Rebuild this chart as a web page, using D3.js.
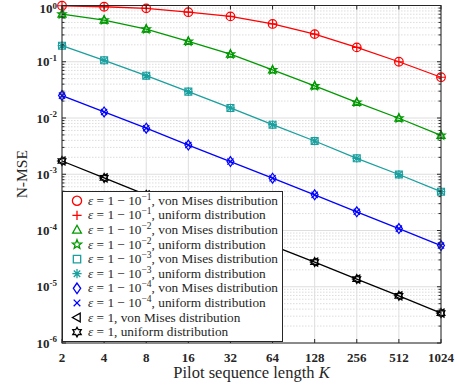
<!DOCTYPE html>
<html>
<head>
<meta charset="utf-8">
<script src="https://cdn.jsdelivr.net/npm/d3@7"></script>
<style>
  html, body { margin: 0; padding: 0; background: #fff; }
  svg { display: block; }
</style>
</head>
<body>
<svg id="chart" width="459" height="386"></svg>
<script>
// pilot sequence lengths
const pilotLengths = [2, 4, 8, 16, 32, 64, 128, 256, 512, 1024]

// N-MSE for each epsilon (von Mises and uniform curves coincide)
const nmseEps1e1 = [0.99, 0.95, 0.89, 0.76, 0.64, 0.47, 0.31, 0.18, 0.10, 0.053]
const nmseEps1e2 = [0.70, 0.55, 0.38, 0.23, 0.136, 0.0714, 0.0372, 0.019, 0.0099, 0.0049]
const nmseEps1e3 = [0.193, 0.106, 0.0565, 0.0294, 0.0151, 0.0076, 0.0039, 0.00192, 0.00099, 0.00049]
const nmseEps1e4 = [0.025, 0.0128, 0.0066, 0.0033, 0.00168, 0.00085, 0.00043, 0.000215, 0.000108, 0.000054]
const nmseEps1 = [0.00172, 0.00086, 0.00043, 0.000215, 0.000108, 0.000054, 0.0000275, 0.0000137, 0.0000069, 0.0000034]

const xTicks = [2, 4, 8, 16, 32, 64, 128, 256, 512, 1024]
const yExponents = [0, -1, -2, -3, -4, -5, -6]

const series = [
    { values: nmseEps1e1, color: '#ff0000', markers: ['circle', 'plus'], exp: '−1' },
    { values: nmseEps1e2, color: '#009900', markers: ['triUp', 'pentagram'], exp: '−2' },
    { values: nmseEps1e3, color: '#1a9f9f', markers: ['square', 'asterisk'], exp: '−3' },
    { values: nmseEps1e4, color: '#0000ff', markers: ['diamond', 'cross'], exp: '−4' },
    { values: nmseEps1, color: '#000000', markers: ['triLeft', 'hexagram'], exp: null }
]

const margin = { left: 62, right: 18, top: 5.5, bottom: 43 }
const W = 459, H = 386
const x0 = margin.left, x1 = W - margin.right
const y0 = H - margin.bottom, y1 = margin.top

const x = d3.scaleLog().base(2).domain([2, 1024]).range([x0, x1])
const y = d3.scaleLog().domain([1e-6, 1]).range([y0, y1])

const svg = d3.select('#chart')

function star(n, ro, ri) {
    let pts = []
    for (let i = 0; i < 2 * n; i++) {
        const a = -Math.PI / 2 + i * Math.PI / n
        const r = i % 2 ? ri : ro
        pts.push([r * Math.cos(a), r * Math.sin(a)])
    }
    return 'M' + pts.map(p => p.join(',')).join('L') + 'Z'
}

const shapes = {
    circle: r => `M${r},0A${r},${r} 0 1,1 ${-r},0A${r},${r} 0 1,1 ${r},0Z`,
    plus: r => `M${-r},0H${r}M0,${-r}V${r}`,
    triUp: r => `M0,${-r}L${r * 0.95},${r * 0.7}L${-r * 0.95},${r * 0.7}Z`,
    pentagram: r => star(5, r * 1.05, r * 0.45),
    square: r => `M${-r * 0.8},${-r * 0.8}H${r * 0.8}V${r * 0.8}H${-r * 0.8}Z`,
    asterisk: r => {
        const d = r * 0.7
        return `M${-r},0H${r}M0,${-r}V${r}M${-d},${-d}L${d},${d}M${-d},${d}L${d},${-d}`
    },
    diamond: r => `M0,${-r * 1.15}L${r * 0.8},0L0,${r * 1.15}L${-r * 0.8},0Z`,
    cross: r => {
        const d = r * 0.72
        return `M${-d},${-d}L${d},${d}M${-d},${d}L${d},${-d}`
    },
    triLeft: r => `M${-r},0L${r * 0.7},${-r * 0.95}L${r * 0.7},${r * 0.95}Z`,
    hexagram: r => star(6, r * 1.05, r * 0.6)
}

// grid
const grid = svg.append('g')
const minorY = []
for (let e = -6; e < 0; e++) {
    for (let m = 2; m <= 9; m++) minorY.push(m * Math.pow(10, e))
}
grid.selectAll('line.minor')
    .data(minorY)
    .enter()
    .append('line')
    .attr('x1', x0).attr('x2', x1)
    .attr('y1', d => y(d)).attr('y2', d => y(d))
    .attr('stroke', '#d4d4d4')
    .attr('stroke-dasharray', '1.5,1.5')
    .attr('stroke-width', 0.8)
grid.selectAll('line.majorY')
    .data(yExponents)
    .enter()
    .append('line')
    .attr('x1', x0).attr('x2', x1)
    .attr('y1', d => y(Math.pow(10, d))).attr('y2', d => y(Math.pow(10, d)))
    .attr('stroke', '#dedede')
grid.selectAll('line.majorX')
    .data(xTicks)
    .enter()
    .append('line')
    .attr('x1', d => x(d)).attr('x2', d => x(d))
    .attr('y1', y0).attr('y2', y1)
    .attr('stroke', '#dedede')

// curves
const line = d3.line()
    .x((d, i) => x(pilotLengths[i]))
    .y(d => y(d))

series.forEach(s => {
    svg.append('path')
        .attr('d', line(s.values))
        .attr('fill', 'none')
        .attr('stroke', s.color)
        .attr('stroke-width', 1.3)
    s.markers.forEach(m => {
        svg.append('g')
            .selectAll('path')
            .data(s.values)
            .enter()
            .append('path')
            .attr('transform', (d, i) => `translate(${x(pilotLengths[i])},${y(d)})`)
            .attr('d', shapes[m](4.3))
            .attr('fill', 'none')
            .attr('stroke', s.color)
            .attr('stroke-width', 1.2)
    })
})

// axes box and ticks
const axes = svg.append('g').attr('stroke', '#262626').attr('stroke-width', 1)
axes.append('rect')
    .attr('x', x0).attr('y', y1)
    .attr('width', x1 - x0).attr('height', y0 - y1)
    .attr('fill', 'none')

xTicks.forEach(t => {
    axes.append('line').attr('x1', x(t)).attr('x2', x(t)).attr('y1', y0).attr('y2', y0 - 4)
    axes.append('line').attr('x1', x(t)).attr('x2', x(t)).attr('y1', y1).attr('y2', y1 + 4)
})
yExponents.forEach(e => {
    const yy = y(Math.pow(10, e))
    axes.append('line').attr('x1', x0).attr('x2', x0 + 4).attr('y1', yy).attr('y2', yy)
    axes.append('line').attr('x1', x1).attr('x2', x1 - 4).attr('y1', yy).attr('y2', yy)
})
minorY.forEach(v => {
    const yy = y(v)
    axes.append('line').attr('x1', x0).attr('x2', x0 + 2.5).attr('y1', yy).attr('y2', yy)
    axes.append('line').attr('x1', x1).attr('x2', x1 - 2.5).attr('y1', yy).attr('y2', yy)
})

const tickFont = 'Liberation Serif, Times New Roman, serif'

svg.append('g')
    .selectAll('text')
    .data(xTicks)
    .enter()
    .append('text')
    .attr('x', d => x(d))
    .attr('y', y0 + 18.5)
    .attr('text-anchor', 'middle')
    .attr('font-family', tickFont)
    .attr('font-weight', 'bold')
    .attr('font-size', 13)
    .attr('fill', '#262626')
    .text(d => d)

// the top label is nudged down a little so it stays inside the picture
const yLabels = svg.append('g')
    .selectAll('text')
    .data(yExponents)
    .enter()
    .append('text')
    .attr('x', x0 - 5)
    .attr('y', d => d === 0 ? 13 : y(Math.pow(10, d)) + 4.5)
    .attr('text-anchor', 'end')
    .attr('font-family', tickFont)
    .attr('font-weight', 'bold')
    .attr('font-size', 13)
    .attr('fill', '#262626')
yLabels.append('tspan').text('10')
yLabels.append('tspan')
    .attr('dy', d => d === 0 ? -4 : -5.5)
    .attr('font-size', 9)
    .text(d => d === 0 ? '0' : '-' + (-d))

// axis titles
svg.append('text')
    .attr('x', (x0 + x1) / 2)
    .attr('y', 378)
    .attr('text-anchor', 'middle')
    .attr('font-family', tickFont)
    .attr('font-size', 16.5)
    .attr('fill', '#262626')
    .html('Pilot sequence length <tspan font-style="italic">K</tspan>')

svg.append('text')
    .attr('transform', `translate(27,${(y0 + y1) / 2}) rotate(-90)`)
    .attr('text-anchor', 'middle')
    .attr('font-family', tickFont)
    .attr('font-size', 15.5)
    .attr('fill', '#262626')
    .text('N-MSE')

// legend
const legendItems = []
series.forEach(s => {
    legendItems.push({ color: s.color, marker: s.markers[0], exp: s.exp, dist: 'von Mises distribution' })
    legendItems.push({ color: s.color, marker: s.markers[1], exp: s.exp, dist: 'uniform distribution' })
})

const lg = svg.append('g')
lg.append('rect')
    .attr('x', x0 + 0.5).attr('y', 191.5)
    .attr('width', 220).attr('height', 150)
    .attr('fill', '#fff')
    .attr('stroke', '#262626')

const rows = lg.selectAll('g.row')
    .data(legendItems)
    .enter()
    .append('g')
    .attr('transform', (d, i) => `translate(0,${200.7 + i * 14.6})`)

rows.append('path')
    .attr('transform', 'translate(77,0)')
    .attr('d', d => shapes[d.marker](4.6))
    .attr('fill', 'none')
    .attr('stroke', d => d.color)
    .attr('stroke-width', 1.3)

const lt = rows.append('text')
    .attr('x', 88)
    .attr('y', 4)
    .attr('font-family', tickFont)
    .attr('font-size', 13.3)
    .attr('fill', '#262626')
lt.append('tspan').attr('font-style', 'italic').text('ε')
lt.append('tspan').text(d => d.exp ? ' = 1 − 10' : ' = 1, ' + d.dist)
lt.filter(d => d.exp)
    .append('tspan')
    .attr('dy', -5)
    .attr('font-size', 9.5)
    .text(d => d.exp)
lt.filter(d => d.exp)
    .append('tspan')
    .attr('dy', 5)
    .text(d => ', ' + d.dist)
</script>
</body>
</html>
